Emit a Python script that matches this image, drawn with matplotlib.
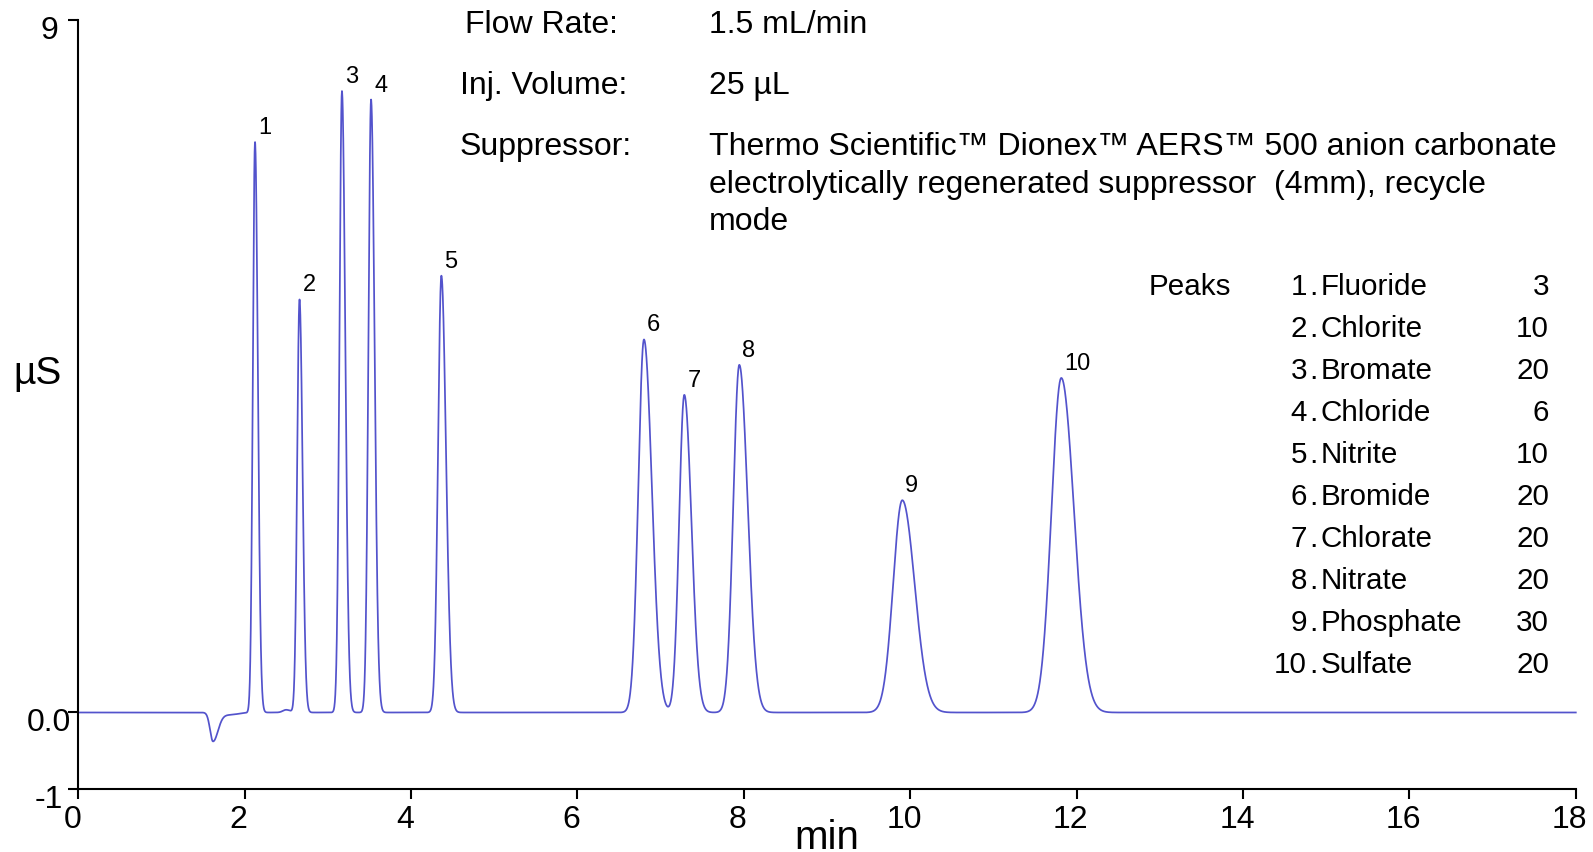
import numpy as np
import matplotlib
matplotlib.use("Agg")
import matplotlib.pyplot as plt
from matplotlib.transforms import ScaledTranslation

plt.rcParams['font.family'] = ['Liberation Sans', 'DejaVu Sans']

# ---- data ----
peak_numbers = ["1", "2", "3", "4", "5", "6", "7", "8", "9", "10"]
peak_times = [2.125, 2.66, 3.17, 3.52, 4.365, 6.80, 7.285, 7.946, 9.905, 11.816]
peak_heights = [7.42, 5.37, 8.08, 7.97, 5.68, 4.85, 4.13, 4.52, 2.76, 4.35]
sigma_left = [0.026, 0.028, 0.030, 0.032, 0.040, 0.068, 0.062, 0.072, 0.11, 0.118]
sigma_right = [0.034, 0.036, 0.040, 0.042, 0.055, 0.095, 0.085, 0.100, 0.148, 0.152]

# minor features: water dip and small baseline bump
minor_times = [1.62, 1.80, 2.50]
minor_heights = [-0.37, -0.03, 0.035]
minor_sigma_left = [0.035, 0.10, 0.04]
minor_sigma_right = [0.06, 0.12, 0.05]

peak_names = ["Fluoride", "Chlorite", "Bromate", "Chloride", "Nitrite",
              "Bromide", "Chlorate", "Nitrate", "Phosphate", "Sulfate"]
peak_conc = ["3", "10", "20", "6", "10", "20", "20", "20", "30", "20"]

header_labels = ["Flow Rate:", "Inj. Volume:", "Suppressor:"]
header_values = ["1.5 mL/min", "25 µL",
                 "Thermo Scientific™ Dionex™ AERS™ 500 anion carbonate\n"
                 "electrolytically regenerated suppressor  (4mm), recycle\nmode"]

x_ticks = [0, 2, 4, 6, 8, 10, 12, 14, 16, 18]
y_ticks = [-1, 0, 9]
y_tick_labels = ["-1", "0.0", "9"]

# ---- build trace from peak parameters ----
t = np.linspace(0, 18, 9001)


def asym_peak(t, t0, h, sl, sr):
    s = np.where(t < t0, sl, sr)
    return h * np.exp(-0.5 * ((t - t0) / s) ** 2)


signal = np.zeros_like(t)
for t0, h, sl, sr in zip(peak_times, peak_heights, sigma_left, sigma_right):
    signal += asym_peak(t, t0, h, sl, sr)
for t0, h, sl, sr in zip(minor_times, minor_heights, minor_sigma_left, minor_sigma_right):
    signal += asym_peak(t, t0, h, sl, sr)

W, H = 1593, 852
fig = plt.figure(figsize=(W / 100, H / 100), dpi=100)

ax_l, ax_r, ax_t, ax_b = 78.2, 1575.8, 20.3, 789.4
ax = fig.add_axes([ax_l / W, 1 - ax_b / H, (ax_r - ax_l) / W, (ax_b - ax_t) / H])

line_color = '#5353CC'
ax.plot(t, signal, color=line_color, lw=1.25, clip_on=False)

ax.set_xlim(0, 18)
ax.set_ylim(-1, 9)
for s in ['top', 'right']:
    ax.spines[s].set_visible(False)
for s in ['left', 'bottom']:
    ax.spines[s].set_linewidth(1.5)

ax.set_xticks(x_ticks)
ax.set_xticklabels([str(v) for v in x_ticks])
ax.set_yticks(y_ticks)
ax.set_yticklabels(y_tick_labels)
ax.tick_params(axis='both', direction='out', length=7, width=1.5, labelsize=23, colors='black')
ax.tick_params(axis='y', pad=1)
ax.tick_params(axis='x', pad=4)

for lab in ax.get_yticklabels():
    lab.set_horizontalalignment('center')
    lab.set_transform(lab.get_transform() + ScaledTranslation(-18 / 100, -7 / 100, fig.dpi_scale_trans))
for lab in ax.get_xticklabels():
    lab.set_transform(lab.get_transform() + ScaledTranslation(-6 / 100, 0, fig.dpi_scale_trans))

# peak number labels
for num, t0, h in zip(peak_numbers, peak_times, peak_heights):
    ax.annotate(num, xy=(t0, h), xytext=(3, 8), textcoords='offset pixels',
                ha='left', va='baseline', fontsize=17, color='black')


def fx(x):
    return x / W


def fy(y):
    return 1 - y / H


# axis titles
fig.text(fx(37.6), fy(374), "µS", ha='center', va='center', fontsize=28)
fig.text(fx(827), fy(849), "min", ha='center', va='baseline', fontsize=29)

# header block
header_fs = 23
header_baselines = [33, 94, 155]
header_label_x = [465, 460, 460]
for lab, yb, xl in zip(header_labels, header_baselines, header_label_x):
    fig.text(fx(xl), fy(yb), lab, ha='left', va='baseline', fontsize=header_fs)
for val, yb in zip(header_values, header_baselines):
    for j, ln in enumerate(val.split("\n")):
        fig.text(fx(709), fy(yb + 37.5 * j), ln, ha='left', va='baseline', fontsize=header_fs)

# peaks table
table_fs = 21.3
row_base0 = 295
row_step = 42.0
fig.text(fx(1149), fy(row_base0), "Peaks", ha='left', va='baseline', fontsize=table_fs)
for i, (nm, cc) in enumerate(zip(peak_names, peak_conc)):
    yb = row_base0 + row_step * i
    fig.text(fx(1307), fy(yb), f"{i + 1}", ha='right', va='baseline', fontsize=table_fs)
    fig.text(fx(1309), fy(yb), ".", ha='left', va='baseline', fontsize=table_fs)
    fig.text(fx(1321), fy(yb), nm, ha='left', va='baseline', fontsize=table_fs)
    fig.text(fx(1549), fy(yb), cc, ha='right', va='baseline', fontsize=table_fs)

fig.savefig("out.png", dpi=100)
